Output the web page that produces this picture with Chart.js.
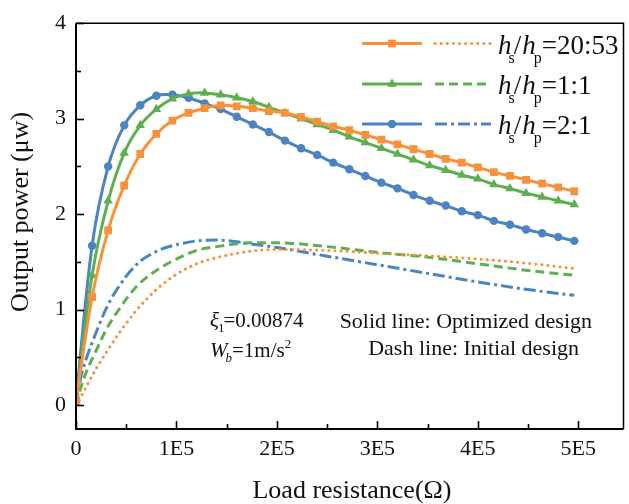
<!DOCTYPE html>
<html>
<head>
<meta charset="utf-8">
<script src="https://cdn.jsdelivr.net/npm/chart.js@4.4.1/dist/chart.umd.min.js"></script>
<style>
  html, body { margin: 0; padding: 0; background: #fff; }
  canvas { display: block; }
</style>
</head>
<body>
<canvas id="myChart" width="629" height="504"></canvas>
<script>
// load resistance (ohm) for the optimized curves (with markers)
var xOpt = [0, 16000, 32000, 48000, 64000, 80000, 96000, 112000, 128000, 144000, 160000,
    176000, 192000, 208000, 224000, 240000, 256000, 272000, 288000, 304000, 320000,
    336000, 352000, 368000, 384000, 400000, 416000, 432000, 448000, 464000, 480000, 496000];
var optOrange = [0.04, 1.13, 1.83, 2.30, 2.63, 2.84, 2.98, 3.06, 3.11, 3.14, 3.13,
    3.11, 3.08, 3.06, 3.02, 2.97, 2.92, 2.88, 2.83, 2.78, 2.73,
    2.68, 2.63, 2.58, 2.54, 2.49, 2.44, 2.40, 2.36, 2.32, 2.28, 2.24];
var optGreen = [0.05, 1.36, 2.14, 2.64, 2.93, 3.10, 3.21, 3.26, 3.27, 3.25, 3.22,
    3.18, 3.12, 3.06, 3.00, 2.94, 2.88, 2.81, 2.75, 2.69, 2.63,
    2.57, 2.51, 2.46, 2.41, 2.37, 2.31, 2.27, 2.22, 2.18, 2.14, 2.10];
var optBlue = [0.05, 1.67, 2.50, 2.93, 3.14, 3.24, 3.25, 3.22, 3.16, 3.10, 3.02,
    2.94, 2.86, 2.77, 2.69, 2.62, 2.54, 2.47, 2.40, 2.33, 2.27,
    2.20, 2.14, 2.09, 2.03, 1.99, 1.93, 1.89, 1.84, 1.80, 1.76, 1.72];

// initial design curves (no markers)
var xInit = [0, 5000, 10000, 20000, 30000, 40000, 60000, 80000, 100000, 120000,
    140000, 160000, 180000, 200000, 250000, 300000, 350000, 400000, 450000, 496000];
var initOrange = [0, 0.09, 0.19, 0.38, 0.55, 0.71, 0.99, 1.21, 1.37, 1.48,
    1.545, 1.59, 1.62, 1.63, 1.62, 1.59, 1.565, 1.53, 1.485, 1.43];
var initGreen = [0, 0.19, 0.34, 0.57, 0.79, 0.96, 1.24, 1.41, 1.53, 1.62,
    1.66, 1.69, 1.70, 1.70, 1.66, 1.60, 1.55, 1.48, 1.41, 1.36];
var initBlue = [0, 0.30, 0.48, 0.76, 1.01, 1.20, 1.47, 1.61, 1.68, 1.72,
    1.73, 1.71, 1.68, 1.65, 1.56, 1.47, 1.38, 1.29, 1.21, 1.15];

var xTickLabels = ["0", "1E5", "2E5", "3E5", "4E5", "5E5"];
var yTickLabels = ["0", "1", "2", "3", "4"];
var ratios = ["20:53", "1:1", "2:1"];

var ORANGE = "#F7913A";
var GREEN = "#5DAF50";
var BLUE = "#4A84C4";
var SERIF = "'Liberation Serif', 'Times New Roman', serif";

// marker radius per style (rect in chart.js is drawn smaller than its radius)
var markR = { rect: 5.5, triangle: 5.5, circle: 4.2 };

function pts(xs, ys) {
    return xs.map(function (x, i) { return { x: x, y: ys[i] }; });
}

function solid(data, color, shape) {
    return {
        data: pts(xOpt, data),
        borderColor: color, backgroundColor: color,
        borderWidth: 3, pointStyle: shape, pointRadius: markR[shape],
        pointBorderWidth: 0, tension: 0.3, order: 1
    };
}
function dashed(data, color, dash, cap) {
    return {
        data: pts(xInit, data),
        borderColor: color, backgroundColor: color,
        borderWidth: 3, borderDash: dash, borderCapStyle: cap || "butt", pointRadius: 0,
        cubicInterpolationMode: "monotone", order: 2
    };
}

// major ticks get a label, minor ones (half steps) stay blank
function majorMinorTicks(step, count) {
    var out = [];
    for (var i = 0; i <= count * 2; i++) out.push({ value: i * step / 2 });
    return out;
}

// frame, inward ticks, legend, notes and axis titles
var decor = {
    id: "decor",
    afterDraw: function (chart) {
        var ctx = chart.ctx, a = chart.chartArea;
        var xs = chart.scales.x, ys = chart.scales.y;
        ctx.save();
        ctx.strokeStyle = "#000";
        ctx.lineWidth = 1.5;
        ctx.beginPath();
        ctx.moveTo(a.left, a.top); ctx.lineTo(a.right, a.top); ctx.lineTo(a.right, a.bottom);
        ctx.stroke();
        ctx.lineWidth = 2;
        ctx.beginPath();
        ctx.moveTo(a.left, a.top); ctx.lineTo(a.left, a.bottom); ctx.lineTo(a.right, a.bottom);
        ctx.stroke();
        // ticks pointing inside
        ctx.lineWidth = 1.6;
        ys.ticks.forEach(function (tk) {
            var py = Math.round(ys.getPixelForValue(tk.value)) + 0.5;
            var len = (tk.value % 1 === 0) ? 8 : 5;
            ctx.beginPath(); ctx.moveTo(a.left, py); ctx.lineTo(a.left + len, py); ctx.stroke();
        });
        xs.ticks.forEach(function (tk) {
            var px = Math.round(xs.getPixelForValue(tk.value)) + 0.5;
            var len = (tk.value % 100000 === 0) ? 8 : 5;
            ctx.beginPath(); ctx.moveTo(px, a.bottom); ctx.lineTo(px, a.bottom - len); ctx.stroke();
        });

        // legend
        var rowsY = [43.5, 84, 124];
        var cols = [ORANGE, GREEN, BLUE];
        var shapes = ["rect", "triangle", "circle"];
        var dashes = [[0.1, 6], [9, 5], [12, 4, 3, 4]];
        for (var i = 0; i < 3; i++) {
            var y = rowsY[i];
            ctx.strokeStyle = cols[i]; ctx.fillStyle = cols[i];
            ctx.lineWidth = 3; ctx.setLineDash([]); ctx.lineCap = "butt";
            ctx.beginPath(); ctx.moveTo(362, y); ctx.lineTo(422, y); ctx.stroke();
            Chart.helpers.drawPoint(ctx, { pointStyle: shapes[i], radius: markR[shapes[i]], borderWidth: 0 }, 392, y);
            ctx.setLineDash(dashes[i]);
            ctx.lineCap = i === 0 ? "round" : "butt";
            ctx.beginPath(); ctx.moveTo(435, y); ctx.lineTo(491, y); ctx.stroke();
            ctx.setLineDash([]); ctx.lineCap = "butt";
            drawRatio(ctx, 498, y + 10, ratios[i]);
        }

        // notes
        ctx.fillStyle = "#111";
        ctx.textBaseline = "alphabetic";
        var cx = 210;
        ctx.font = "italic 21px " + SERIF;
        ctx.fillText("\u03BE", cx, 327); cx += ctx.measureText("\u03BE").width - 1;
        ctx.font = "13px " + SERIF;
        ctx.fillText("1", cx, 332); cx += ctx.measureText("1").width - 1;
        ctx.font = "21px " + SERIF;
        ctx.fillText("=0.00874", cx, 327);
        cx = 210;
        ctx.font = "italic 21px " + SERIF;
        ctx.fillText("W", cx, 357); cx += ctx.measureText("W").width - 2;
        ctx.font = "italic 13px " + SERIF;
        ctx.fillText("b", cx, 362); cx += ctx.measureText("b").width;
        ctx.font = "21px " + SERIF;
        ctx.fillText("=1m/s", cx, 357); cx += ctx.measureText("=1m/s").width;
        ctx.font = "13px " + SERIF;
        ctx.fillText("2", cx, 348);

        ctx.font = "22px " + SERIF;
        ctx.textAlign = "right";
        ctx.fillText("Solid line: Optimized design", 592, 328);
        ctx.fillText("Dash line: Initial design", 579, 355);

        // axis titles
        ctx.font = "26px " + SERIF;
        ctx.textAlign = "center";
        ctx.fillText("Load resistance(\u03A9)", 352, 498);
        ctx.translate(28, 212);
        ctx.rotate(-Math.PI / 2);
        ctx.fillText("Output power (\u03BCw)", 0, 0);
        ctx.restore();
    }
};

function drawRatio(ctx, x, y, r) {
    ctx.fillStyle = "#111";
    ctx.textAlign = "left";
    ctx.textBaseline = "alphabetic";
    var c = x;
    ctx.font = "italic 27px " + SERIF;
    ctx.fillText("h", c, y); c += ctx.measureText("h").width - 3;
    ctx.font = "16px " + SERIF;
    ctx.fillText("s", c, y + 9); c += ctx.measureText("s").width - 1;
    ctx.font = "27px " + SERIF;
    ctx.fillText("/", c, y); c += ctx.measureText("/").width + 1;
    ctx.font = "italic 27px " + SERIF;
    ctx.fillText("h", c, y); c += ctx.measureText("h").width - 2;
    ctx.font = "16px " + SERIF;
    ctx.fillText("p", c, y + 9); c += ctx.measureText("p").width;
    ctx.font = "27px " + SERIF;
    ctx.fillText("=" + r, c, y);
}

new Chart("myChart", {
    type: "line",
    data: {
        datasets: [
            solid(optOrange, ORANGE, "rect"),
            solid(optGreen, GREEN, "triangle"),
            solid(optBlue, BLUE, "circle"),
            dashed(initOrange, ORANGE, [0.1, 6], "round"),
            dashed(initGreen, GREEN, [9, 5]),
            dashed(initBlue, BLUE, [12, 4, 3, 4])
        ]
    },
    options: {
        responsive: false,
        devicePixelRatio: 1,
        animation: false,
        layout: { padding: { left: 0, right: 4, top: 19, bottom: 0 } },
        plugins: { legend: { display: false }, tooltip: { enabled: false } },
        scales: {
            x: {
                type: "linear", min: 0, max: 545000,
                grid: { display: false, drawTicks: false },
                border: { display: false },
                afterFit: function (s) { s.height = 75; },
                afterBuildTicks: function (s) { s.ticks = majorMinorTicks(100000, xTickLabels.length - 1); },
                ticks: {
                    padding: 7, autoSkip: false, maxRotation: 0,
                    color: "#111", font: { family: SERIF, size: 22 },
                    callback: function (v) {
                        return v % 100000 === 0 ? xTickLabels[v / 100000] : "";
                    }
                }
            },
            y: {
                min: -0.25, max: 4,
                grid: { display: false, drawTicks: false },
                border: { display: false },
                afterFit: function (s) { s.width = 76; },
                afterBuildTicks: function (s) { s.ticks = majorMinorTicks(1, yTickLabels.length - 1); },
                ticks: {
                    padding: 10, autoSkip: false,
                    color: "#111", font: { family: SERIF, size: 22 },
                    callback: function (v) {
                        return Number.isInteger(v) ? yTickLabels[v] : "";
                    }
                }
            }
        }
    },
    plugins: [decor]
});
</script>
</body>
</html>
